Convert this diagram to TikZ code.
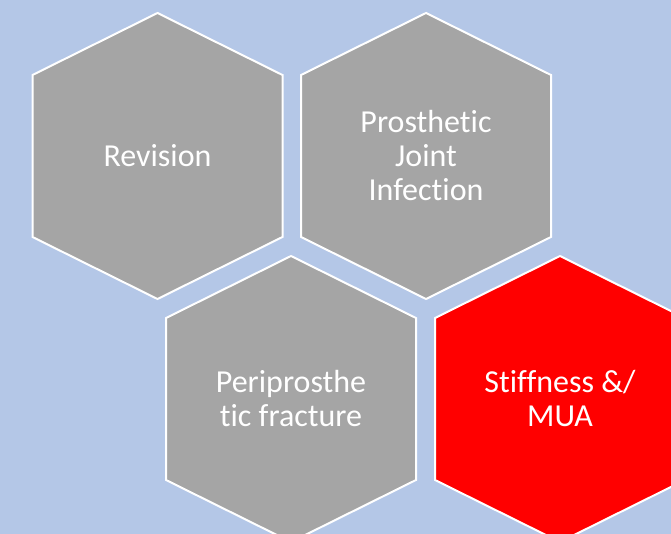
\documentclass[tikz,border=0pt]{standalone}
\usepackage{fontspec}
\setmainfont{Carlito}[Ligatures=NoCommon]
\definecolor{sky}{RGB}{180,199,231}
\definecolor{cellgray}{RGB}{165,165,165}
\definecolor{alert}{RGB}{255,0,0}
\tikzset{
  hexa/.pic={\path[pic actions] (0,-143)--(125,-81)--(125,81)--(0,143)--(-125,81)--(-125,-81)--cycle;},
  hexcell/.style={draw=white, line width=2pt, fill=cellgray},
  hexhot/.style={hexcell, fill=alert},
  celltext/.style={text=white, align=center, font=\fontsize{32}{34}\selectfont},
}

\begin{document}
\begin{tikzpicture}[x=1pt, y=-1pt]
    \fill[sky] (0,0) rectangle (671,534);
    \useasboundingbox (0,0) rectangle (671,534);
    \clip (0,0) rectangle (671,534);
    \pic[hexcell] at (157.5,156) {hexa};
    \pic[hexcell] at (426,156) {hexa};
    \pic[hexcell] at (291,399) {hexa};
    \pic[hexhot] at (560,399) {hexa};
    \node[celltext] (rev) at (157.5,156) {Revision};
    \node[celltext] (pji) at (426,156) {Prosthetic\\Joint\\Infection};
    \node[celltext] (ppf) at (291,399) {Periprosthe\\tic fracture};
    \node[celltext] (mua) at (560,399) {Stiffness \&/\\MUA};
  \end{tikzpicture}
\end{document}
